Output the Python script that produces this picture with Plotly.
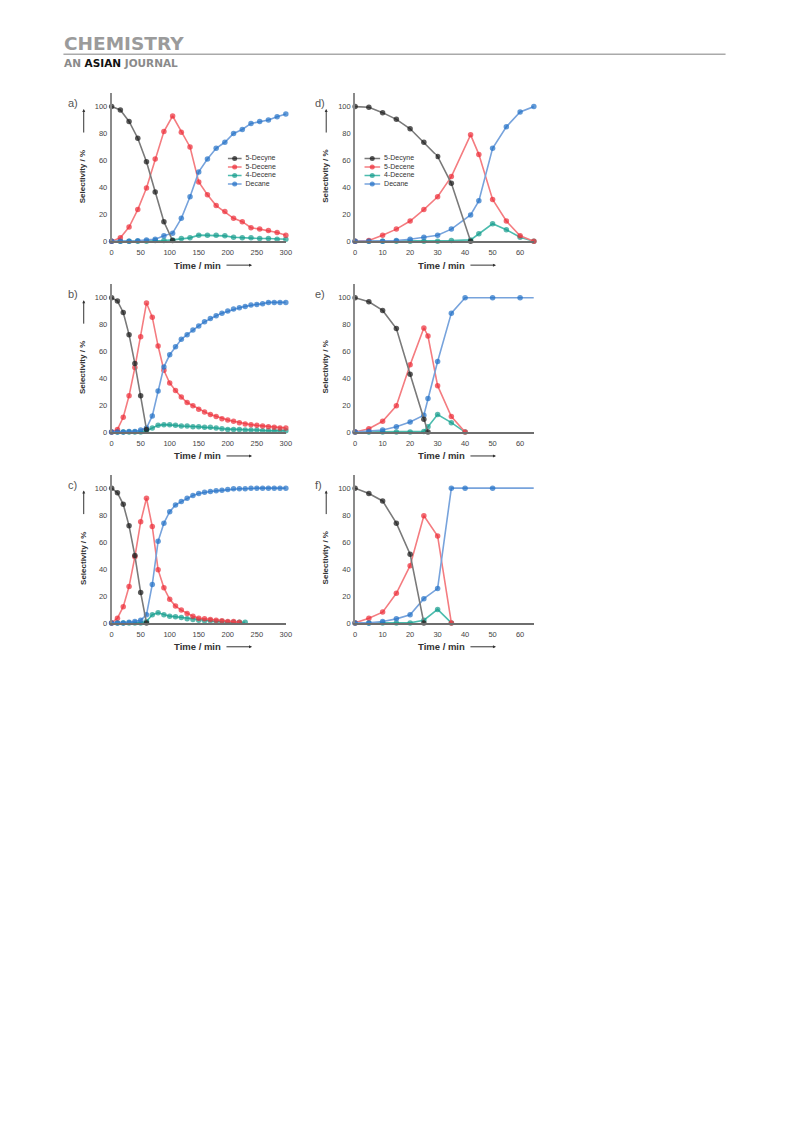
import plotly.graph_objects as go

# page offset of the plot div (browser default body margin)
OFF = 8
W, H = 777, 1100

# ---------------- data ----------------
series_names = ["5-Decyne", "5-Decene", "4-Decene", "Decane"]
x_ticks_long = [0, 50, 100, 150, 200, 250, 300]
x_ticks_short = [0, 10, 20, 30, 40, 50, 60]
y_ticks = [0, 20, 40, 60, 80, 100]

# panel a
t_a = [0, 15, 30, 45, 60, 75, 90, 105, 120, 135, 150, 165, 180, 195, 210, 225, 240, 255, 270, 285, 300]
a_decyne = [100, 97.5, 89, 76.5, 59, 36.5, 14.5, 0.5]
a_decene5 = [0, 2.5, 10.5, 23.5, 39.5, 61, 81.5, 93, 81, 70, 44, 34.5, 26.5, 22, 17, 14.5, 10, 9, 8, 6.5, 4.5]
a_decene4 = [0, 0, 0, 0, 0, 0.5, 0.5, 1, 2, 2.5, 4.5, 4.5, 4.5, 4, 3, 2.5, 2.5, 2, 2, 1.5, 1.5]
a_decane = [0, 0, 0, 0.3, 1, 1.5, 4, 6, 17, 33, 51.5, 61, 69, 73.5, 80, 83, 87.5, 89, 90, 92.5, 94.5]

# panel b
t_b = [0, 10, 20, 30, 40, 50, 60, 70, 80, 90, 100, 110, 120, 130, 140, 150, 160, 170, 180, 190, 200,
       210, 220, 230, 240, 250, 260, 270, 280, 290, 300]
b_decyne = [100, 97.5, 89, 72.5, 51, 27, 2]
b_decene5 = [0, 2, 11, 27, 48, 71, 96, 85.5, 64, 46, 36.5, 31, 26, 22, 19.5, 17, 15, 13, 11.5, 10, 9,
             8, 7, 6, 5.5, 5, 4.5, 4, 3.5, 3, 3]
b_decene4 = [0, 0, 0, 0, 0, 0, 1, 3, 5, 5.5, 5.5, 5, 4.5, 4.5, 4, 4, 3.5, 3.5, 3, 2.5, 2,
             2, 2, 1.5, 1.5, 1.5, 1, 1, 1, 1, 1]
b_decane = [0, 0, 0, 0.5, 0.5, 1.5, 3, 12, 30.5, 48.5, 57.5, 63.5, 69, 72.5, 76, 79, 82, 84.5, 86.5, 88.5, 90,
            91.5, 92.5, 93.5, 94.5, 95, 95.5, 96.5, 96.5, 96.5, 96.5]

# panel c
t_c = t_b
c_decyne = [100, 96.5, 88, 72, 50, 22.5, 0]
c_decene5 = [0, 3.5, 12, 27, 49, 75, 92.5, 71.5, 39.5, 26, 17.5, 12.5, 9.5, 7, 5, 3.5, 3, 2.5, 2, 1.5, 1, 1, 0.5]
c_decene4 = [0, 0, 0, 0, 0, 0, 1, 6, 7.5, 6, 5, 4.5, 4, 3, 2.5, 2, 1.5, 1.5, 1, 1, 0.5, 0.5, 0.5, 0.5]
c_decane = [0, 0, 0, 0.5, 1, 2, 6, 28.5, 60.5, 74, 82.5, 87.5, 90, 92.5, 94.5, 96, 97, 97.5, 98, 98.5, 99,
            99.5, 99.5, 99.5, 100, 100, 100, 100, 100, 100, 100]

# panel d
t_d = [0, 5, 10, 15, 20, 25, 30, 35, 42, 45, 50, 55, 60, 65]
d_decyne = [100, 99.5, 95.5, 90.5, 83.5, 73.5, 63, 43, 0]
d_decene5 = [0, 0.5, 4.5, 9, 15, 23.5, 33, 48, 79, 64.5, 31, 15, 4, 0]
d_decene4 = [0, 0, 0, 0, 0, 0, 0, 0.5, 1, 5.5, 13, 8.5, 3, 0]
d_decane = [0, 0, 0, 0.5, 1.5, 3, 4.5, 9, 19.5, 30, 69, 85, 96, 100]

# panel e (last decane point = line end at axis limit, no marker)
t_e = [0, 5, 10, 15, 20, 25, 26.5, 30, 35, 40, 50, 60, 65]
e_decyne = [100, 97, 90.5, 77, 43, 9.5, 0]
e_decene5 = [0, 2.5, 8, 19.5, 50, 77.5, 71.5, 34.5, 11.5, 0]
e_decene4 = [0, 0, 0, 0, 0, 0.5, 4, 13, 7, 0]
e_decane = [0, 0.5, 1.5, 4, 7.5, 12.5, 25, 52.5, 88.5, 100, 100, 100, 100]

# panel f (last decane point = line end at axis limit, no marker)
t_f = [0, 5, 10, 15, 20, 25, 30, 35, 40, 50, 65]
f_decyne = [100, 96, 90.5, 74, 51, 0]
f_decene5 = [0, 3.5, 8, 22, 42.5, 79.5, 64.5, 0]
f_decene4 = [0, 0, 0, 0, 0, 2, 10, 0]
f_decane = [0, 0, 1, 3, 6, 18, 25.5, 100, 100, 100, 100]

# ---------------- style ----------------
marker_colors = {"5-Decyne": "#151515", "5-Decene": "#ec2b36", "4-Decene": "#159b8b", "Decane": "#1f6fc6"}
line_colors = {"5-Decyne": "#7a7a7a", "5-Decene": "#f47c80", "4-Decene": "#4cbcae", "Decane": "#77a3dc"}
FONT = "Liberation Sans, Arial, sans-serif"


def px(x):
    return (x - OFF) / W


def py(y):
    return 1 - (y - OFF) / H


fig = go.Figure()

# panel geometry in page pixels
panels = {
    "a": dict(xd=(110.7, 286.7), yd=(242.3, 93.5), xr=300, ticks=x_ticks_long,
              data=(t_a, a_decyne, a_decene5, a_decene4, a_decane), arrow=True),
    "b": dict(xd=(110.7, 286.7), yd=(434.0, 285.5), xr=300, ticks=x_ticks_long,
              data=(t_b, b_decyne, b_decene5, b_decene4, b_decane), arrow=True),
    "c": dict(xd=(110.7, 286.7), yd=(625.7, 476.8), xr=300, ticks=x_ticks_long,
              data=(t_c, c_decyne, c_decene5, c_decene4, c_decane), arrow=True),
    "d": dict(xd=(356.7, 537.3), yd=(242.3, 93.5), xr=65, ticks=x_ticks_short,
              data=(t_d, d_decyne, d_decene5, d_decene4, d_decane), arrow=True),
    "e": dict(xd=(356.7, 537.3), yd=(434.0, 285.5), xr=65, ticks=x_ticks_short,
              data=(t_e, e_decyne, e_decene5, e_decene4, e_decane), arrow=False),
    "f": dict(xd=(356.7, 537.3), yd=(625.7, 476.8), xr=65, ticks=x_ticks_short,
              data=(t_f, f_decyne, f_decene5, f_decene4, f_decane), arrow=True),
}

annotations = []
shapes = []

for i, (key, p) in enumerate(panels.items(), start=1):
    xa = "x" if i == 1 else f"x{i}"
    ya = "y" if i == 1 else f"y{i}"
    t, dec, d5, d4, dn = p["data"]
    order = [("4-Decene", d4), ("5-Decene", d5), ("Decane", dn), ("5-Decyne", dec)]
    for name, vals in order:
        n = len(vals)
        sizes = [5.5] * n
        if key in ("e", "f") and name == "Decane":
            sizes[-1] = 0
        fig.add_trace(go.Scatter(
            x=t[:n], y=vals, mode="lines+markers", name=name, showlegend=False,
            line=dict(color=line_colors[name], width=1.6),
            marker=dict(color=marker_colors[name], size=sizes, line=dict(width=0)),
            cliponaxis=False, xaxis=xa, yaxis=ya))
    xl = "xaxis" if i == 1 else f"xaxis{i}"
    yl = "yaxis" if i == 1 else f"yaxis{i}"
    fig.layout[xl] = dict(domain=[px(p["xd"][0]), px(p["xd"][1])], range=[0, p["xr"]],
                          anchor=ya, showgrid=False, zeroline=False, showline=True,
                          linecolor="#6e6e6e", linewidth=1.5, tickvals=p["ticks"],
                          ticks="outside", ticklen=3, tickcolor="rgba(0,0,0,0)",
                          tickfont=dict(size=7.5, color="#444", family=FONT), fixedrange=True)
    fig.layout[yl] = dict(domain=[py(p["yd"][0]), py(p["yd"][1])], range=[0, 110],
                          anchor=xa, showgrid=False, zeroline=False, showline=True,
                          linecolor="#8a8a8a", linewidth=1.8, tickvals=y_ticks,
                          ticks="outside", ticklen=1, tickcolor="rgba(0,0,0,0)",
                          tickfont=dict(size=7.5, color="#444", family=FONT),
                          fixedrange=True)

    x0, x1 = p["xd"]
    yb, yt = p["yd"]
    left = x0 < 200
    # panel letter
    annotations.append(dict(text=f"{key})", x=px(65 if left else 314), y=py(yt + 10),
                            xref="paper", yref="paper", showarrow=False, xanchor="left",
                            yanchor="middle", font=dict(size=11, color="#555", family=FONT)))
    # x title + arrow
    tcx = 197.5 if left else 444
    annotations.append(dict(text="<b>Time / min</b>", x=px(tcx), y=py(yb + 24),
                            xref="paper", yref="paper", showarrow=False,
                            xanchor="center", yanchor="middle",
                            font=dict(size=9.5, color="#333", family=FONT)))
    annotations.append(dict(text="", x=px(tcx + 55), y=py(yb + 24), xref="paper", yref="paper",
                            xanchor="center", yanchor="middle",
                            showarrow=True, ax=-27, ay=0, arrowhead=2, arrowsize=0.6,
                            arrowwidth=1, arrowcolor="#333"))
    # y title + arrow
    ytx = 81.5 if left else 326.5
    annotations.append(dict(text="<b>Selectivity / %</b>", x=px(ytx), y=py(yb - 65),
                            xref="paper", yref="paper", showarrow=False, textangle=-90,
                            xanchor="center", yanchor="middle",
                            font=dict(size=8, color="#333", family=FONT)))
    if p["arrow"]:
        annotations.append(dict(text="", x=px(ytx + 1), y=py(yt + 16), xref="paper", yref="paper",
                                xanchor="center", yanchor="middle",
                                showarrow=True, ax=0, ay=25, arrowhead=2, arrowsize=0.6,
                                arrowwidth=1, arrowcolor="#333"))

# ---------------- legend keys (panels a and d) ----------------
legend_boxes = [(228, 7), (366, 8)]  # (left page px, marker offset)
for j, (lx, mo) in enumerate(legend_boxes):
    idx = 7 + j
    xa, ya = f"x{idx}", f"y{idx}"
    for k, name in enumerate(series_names):
        fig.add_trace(go.Scatter(
            x=[0, mo, 2 * mo], y=[k, k, k], mode="lines+markers", showlegend=False,
            line=dict(color=line_colors[name], width=1.4),
            marker=dict(color=marker_colors[name], size=[0, 5, 0], line=dict(width=0)),
            cliponaxis=False, xaxis=xa, yaxis=ya, hoverinfo="skip"))
    fig.add_trace(go.Scatter(
        x=[2 * mo + 4] * 4, y=list(range(4)), mode="text", text=series_names,
        textposition="middle right", textfont=dict(size=7, color="#333", family=FONT),
        showlegend=False, cliponaxis=False, xaxis=xa, yaxis=ya, hoverinfo="skip"))
    fig.layout[f"xaxis{idx}"] = dict(domain=[px(lx), px(lx + 72)], range=[0, 72], visible=False,
                                    anchor=ya, fixedrange=True)
    fig.layout[f"yaxis{idx}"] = dict(domain=[py(189), py(155)], range=[3.5, -0.5], visible=False,
                                    anchor=xa, fixedrange=True)

# ---------------- header ----------------
annotations.append(dict(text="<b>CHEMISTRY</b>", x=px(61), y=py(44), xref="paper", yref="paper",
                        showarrow=False, xanchor="left", yanchor="middle",
                        font=dict(size=18.5, color="#9b9b9b", family="DejaVu Sans")))
annotations.append(dict(text="<b>AN <span style='color:#111'>ASIAN</span> JOURNAL</b>", x=px(61), y=py(63),
                        xref="paper", yref="paper", showarrow=False, xanchor="left", yanchor="middle",
                        font=dict(size=10.5, color="#8a8a8a", family="DejaVu Sans")))
shapes.append(dict(type="line", xref="paper", yref="paper", x0=px(62), x1=px(731), y0=py(54.5), y1=py(54.5),
                   line=dict(color="#aaaaaa", width=1.5)))

fig.update_layout(width=W, height=H, margin=dict(l=0, r=0, t=0, b=0),
                  paper_bgcolor="white", plot_bgcolor="white",
                  annotations=annotations, shapes=shapes, showlegend=False,
                  font=dict(family=FONT))

fig.write_html("out.html")
